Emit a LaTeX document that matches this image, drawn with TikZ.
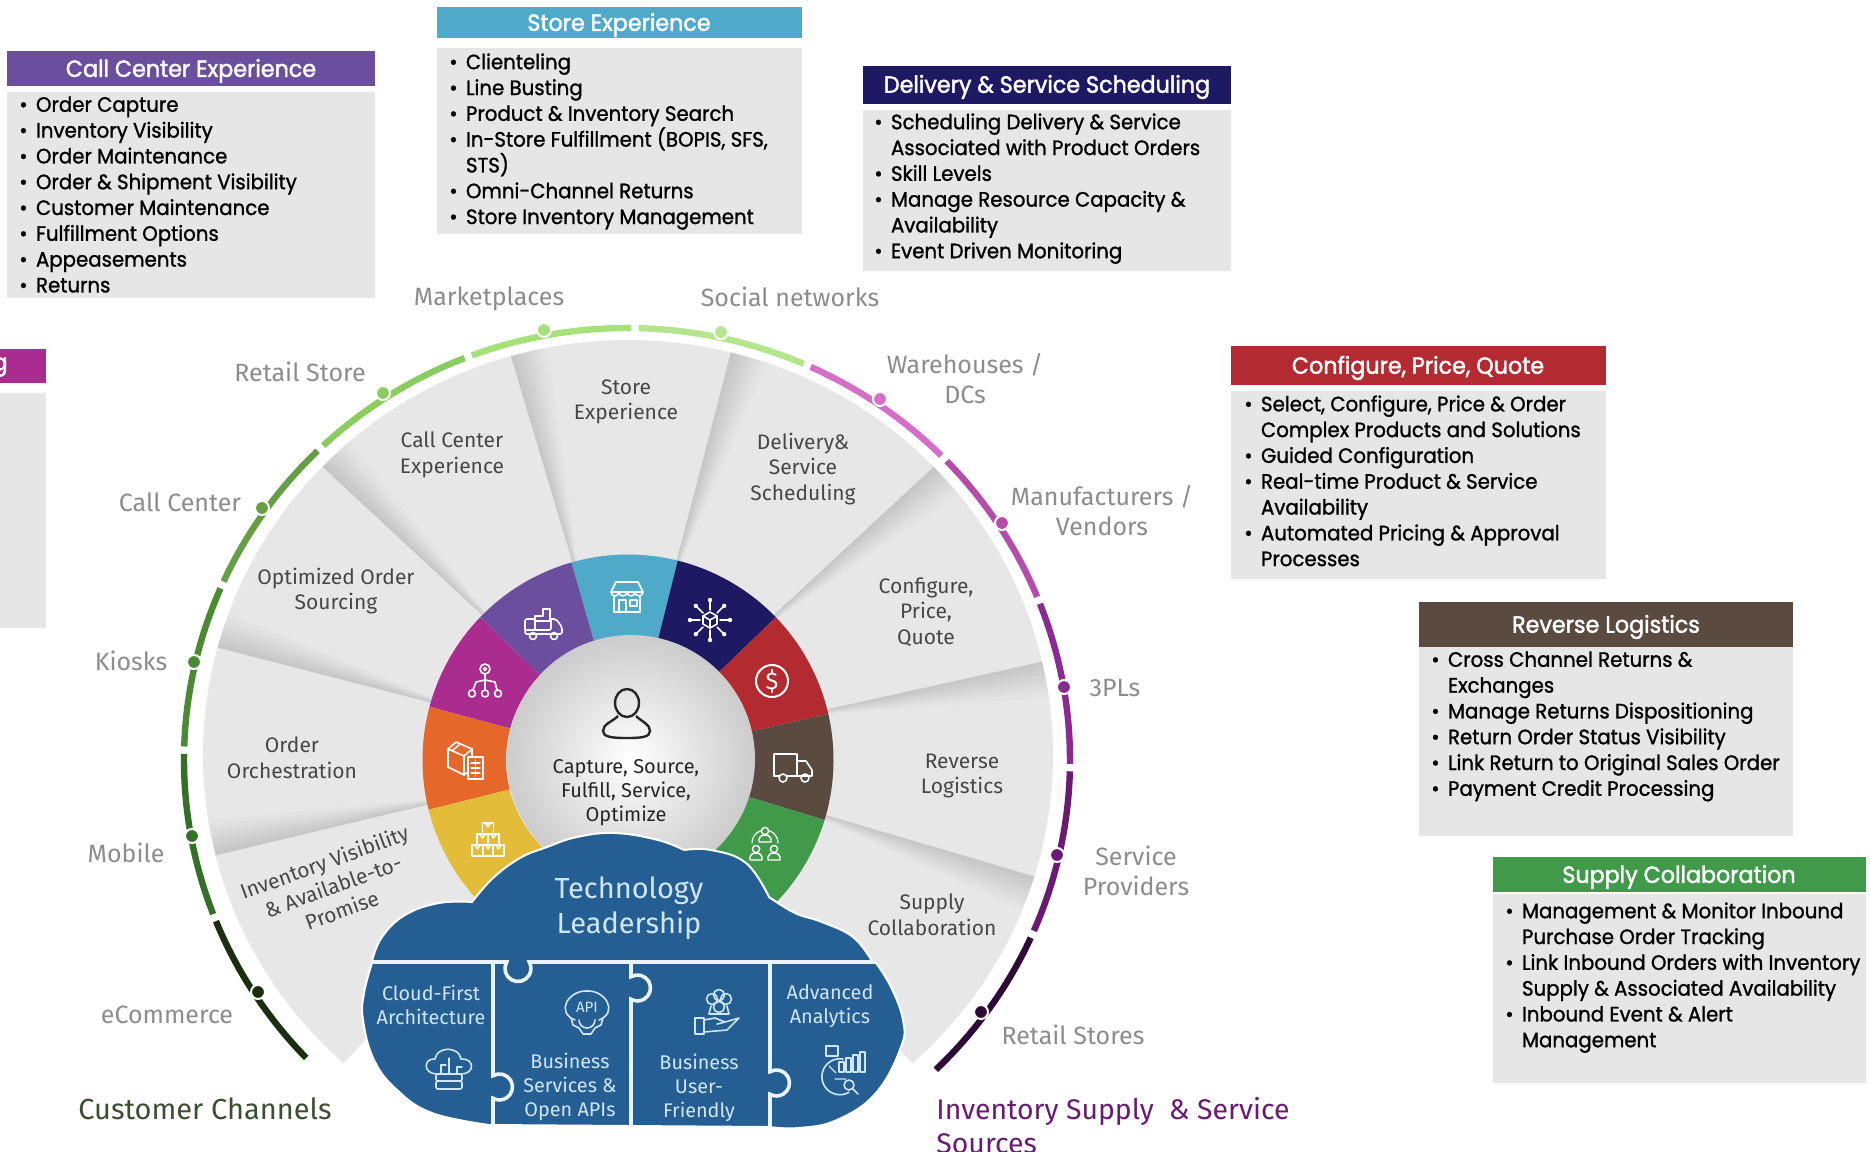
\documentclass[tikz,border=0pt]{standalone}
\usepackage{fontspec}
\usepackage{amsmath}
\setmainfont{Fira Sans}
\newfontfamily\boxfont[FakeStretch=0.95,FakeBold=1.2]{Poppins}
\newfontfamily\headfont[FakeStretch=0.95,FakeBold=1.8]{Poppins}
\newfontfamily\wheelfont{Fira Sans}
\usetikzlibrary{positioning}

\definecolor{callc}{HTML}{6B4F9E}
\definecolor{storec}{HTML}{4FA9C9}
\definecolor{delivc}{HTML}{1D1A63}
\definecolor{cpqc}{HTML}{B32A30}
\definecolor{revc}{HTML}{5A4A40}
\definecolor{supc}{HTML}{419A4A}
\definecolor{magc}{HTML}{AA2C8F}
\definecolor{orgc}{HTML}{E5672A}
\definecolor{yelc}{HTML}{E3BD3A}
\definecolor{cloudc}{HTML}{245E92}
\definecolor{cloudtxt}{HTML}{CFE6F5}
\definecolor{seamc}{HTML}{EAF3F9}
\definecolor{bodyc}{HTML}{E6E6E6}
\definecolor{wedgec}{HTML}{E7E7E8}
\definecolor{a1}{HTML}{1A2E10}
\definecolor{a2}{HTML}{35702A}
\definecolor{a3}{HTML}{4A8A32}
\definecolor{a4}{HTML}{669E44}
\definecolor{a5}{HTML}{8ACC5E}
\definecolor{a6}{HTML}{A6E27A}
\definecolor{a7}{HTML}{B5E68E}
\definecolor{a8}{HTML}{D46FC9}
\definecolor{a9}{HTML}{B54BAB}
\definecolor{a10}{HTML}{8B2A92}
\definecolor{a11}{HTML}{6A1A72}
\definecolor{a12}{HTML}{2F0C38}
\newcommand{\bl}[1]{\makebox[8.3pt][l]{•}#1}
\newcommand{\cn}[1]{\hspace*{8.3pt}#1}

\begin{document}
\begin{tikzpicture}[x=0.5pt,y=-0.5pt,
	boxhead/.style={text=white, inner sep=0pt, font=\headfont\fontsize{11.7}{14}\selectfont},
	boxlist/.style={anchor=north west, inner sep=0pt, align=left, text=black,
	font=\boxfont\fontsize{10.4}{12.9}\selectfont},
	outlabel/.style={align=center, text=black!45, inner sep=0pt,
	font=\wheelfont\fontsize{12.5}{15}\selectfont},
	wedgelabel/.style={align=center, text=black!72, inner sep=0pt,
	font=\wheelfont\fontsize{10.5}{12.8}\selectfont},
	cloudlabel/.style={align=center, text=cloudtxt, inner sep=0pt,
	font=\wheelfont\fontsize{9.9}{12}\selectfont},
	ico/.style={draw=white, line width=0.8pt, line join=round, line cap=round},
	seg/.style={line width=3.2pt},
	seam/.style={seamc, line width=1.8pt}
	]
	\useasboundingbox (0,0) rectangle (1870,1152);
	\fill[white] (0,0) rectangle (1870,1152);

	% grey disc with the wedge shadows
	\begin{scope}[shift={(628,755)}]
		\fill[wedgec] (0,0) -- (48:425 and 415) arc[start angle=48, end angle=-228, x radius=425, y radius=415] -- cycle;
		\foreach \a in {-194,-165,-136,-106,-76,-44,-13,17}
		\foreach \d in {.6,1.2,1.8,2.4,3,3.6,4.2,5}
		\fill[black, opacity=.016] (\a:170) -- (\a:425 and 415) -- ({\a+\d}:425 and 415) -- cycle;
	\end{scope}

	% coloured ring
	\begin{scope}[shift={(628,760)}]
		\foreach \s/\e/\c in {-106/-76/storec, -76/-44/delivc, -44/-13/cpqc, -13/17/revc, 17/46/supc,
		-136/-106/callc, -165/-136/magc, -194/-165/orgc, -226/-194/yelc}
		\fill[\c] (\s:205.5) arc[start angle=\s, end angle=\e, radius=205.5] -- (\e:122) arc[start angle=\e, end angle=\s, radius=122] -- cycle;
	\end{scope}
	\shade[inner color=white, outer color=black!20] (631,759) circle (124);

	% outer arc
	\begin{scope}[shift={(627,760)}]
		\foreach \s/\e/\c in {-223.6/-201.9/a1, -200.9/-179.2/a2, -178.2/-156.6/a3, -155.6/-134.3/a4,
		-133.3/-111.5/a5, -110.5/-89.5/a6, -88.5/-66.5/a7, -65.5/-44.8/a8, -43.8/-22.2/a9,
		-21.2/0.5/a10, 1.5/23.3/a11, 24.3/45.8/a12}
		\draw[seg,\c] (\s:443 and 432) arc[start angle=\s, end angle=\e, x radius=443, y radius=432];
	\end{scope}
	\foreach \x/\y/\c in {544/330/a6, 721/332/a7, 880/399/a8, 1002/523/a9, 1064/687/a10, 1057/855/a11,
	981/1012/a12, 258/992/a1, 192/836/a2, 194/662/a3, 262/508/a4, 383/393/a5}
	\draw[white, line width=1pt, fill=\c] (\x,\y) circle (7);

	% labels round the wheel
	\foreach \n/\x/\y/\t in {mark/489/299/Marketplaces, soc/790/297/Social networks,
	ware/965/379/{Warehouses /\\DCs}, manu/1102/511/{Manufacturers /\\Vendors}, tpl/1115/688/3PLs,
	serv/1136/871/{Service\\Providers}, rets/1073/1035/Retail Stores, ecom/167/1015/eCommerce,
	mob/126/853/Mobile, kio/131/661/Kiosks, cc/180/502/Call Center, rs/300/372/Retail Store}
	\node[outlabel] (\n) at (\x,\y) {\t};

	\foreach \n/\x/\y/\t in {wstore/626/402/{Store\\Experience}, wcall/452/455/{Call Center\\Experience},
	wdel/803/469/{Delivery\&\\Service\\Scheduling}, wopt/336/591/{Optimized Order\\Sourcing},
	wcpq/926/612/{Configure,\\Price,\\Quote}, wordr/292/758/{Order\\Orchestration},
	wrev/962/776/{Reverse\\Logistics}, wsup/932/915/{Supply\\Collaboration}}
	\node[wedgelabel] (\n) at (\x,\y) {\t};
	\node[wedgelabel, rotate=20] (winv) at (333,886) {Inventory Visibility\\\& Available-to-\\Promise};
	\node[wedgelabel, text=black!85, font=\wheelfont\fontsize{10}{12}\selectfont] (hub) at (626,793) {Capture, Source,\\Fulfill, Service,\\Optimize};

	% person
	\draw[line width=1.2pt, black!85] (627,703) ellipse [x radius=12, y radius=14];
	\draw[line width=1.2pt, black!85] (618,716) .. controls (612,722) and (603,724) .. (603,731) .. controls (603,737) and (612,738) .. (627,738) .. controls (642,738) and (650,737) .. (650,731) .. controls (650,724) and (642,722) .. (636,716);

	% ring icons
	\begin{scope}[shift={(627,597)}]
		\draw[ico] (-11,-15) -- (11,-15) -- (16,-5) -- (-16,-5) -- cycle;
		\foreach \u in {-16,-8,0,8} \draw[ico] (\u,-5) arc[start angle=180, end angle=0, radius=4];
		\draw[ico] (-13,0) -- (-13,15) -- (13,15) -- (13,0);
		\draw[ico] (-8,15) -- (-8,3) -- (-1,3) -- (-1,15);
		\draw[ico] (3,3) rectangle (10,9);
	\end{scope}
	\begin{scope}[shift={(710,620)}]
		\draw[ico] (0,-8) -- (7,-4) -- (7,4) -- (0,8) -- (-7,4) -- (-7,-4) -- cycle;
		\draw[ico] (-7,-4) -- (0,0) -- (7,-4) (0,0) -- (0,8);
		\foreach \a in {0,45,...,315} {
			\draw[ico] (\a:10) -- (\a:19);
			\fill[white] (\a:20) circle (2.2);
		}
	\end{scope}
	\begin{scope}[shift={(772,681)}]
		\draw[ico, line width=1pt] (0,0) circle (16);
		\node[text=white, inner sep=0pt, font=\wheelfont\fontsize{12}{12}\selectfont] (dollar) at (0,0) {\$};
	\end{scope}
	\begin{scope}[shift={(793,767)}]
		\draw[ico] (-19,9) -- (-19,-13) -- (4,-13) -- (4,9) -- (19,9) -- (19,3) -- (13,-6) -- (4,-6);
		\draw[ico] (-19,9) -- (-14,9) (-6,9) -- (8,9);
		\draw[ico] (-10,11) circle (4) (12,11) circle (4);
	\end{scope}
	\begin{scope}[shift={(765,843)}]
		\foreach \u/\v in {0/-12,-9/6,9/6} {
			\draw[ico, line width=.7pt] (\u,\v) circle (3.6);
			\draw[ico, line width=.7pt] (\u-6,\v+11) -- (\u-6,\v+8) arc[start angle=180, end angle=360, x radius=6, y radius=4] -- (\u+6,\v+11) -- cycle;
		}
		\draw[ico, line width=.6pt] (-13,0) arc[start angle=180, end angle=250, radius=13];
		\draw[ico, line width=.6pt] (13,0) arc[start angle=0, end angle=-70, radius=13];
	\end{scope}
	\begin{scope}[shift={(488,840)}]
		\foreach \u/\v in {-5.5/-17,-11/-6,0/-6,-16/5,-5.5/5,5/5} {
			\draw[ico, line width=.9pt] (\u,\v) rectangle +(11,11);
			\draw[ico, line width=.7pt] (\u+3,\v) -- (\u+5.5,\v+4) -- (\u+8,\v);
		}
	\end{scope}
	\begin{scope}[shift={(466,761)}]
		\draw[ico] (-10,-19) -- (6,-12) -- (6,8) -- (-2,14) -- (-18,6) -- (-18,-12) -- cycle;
		\draw[ico] (-18,-12) -- (-2,-5) -- (6,-12) (-2,-5) -- (-2,14);
		\draw[ico] (-6,-17) -- (-14,-10);
		\draw[ico, fill=orgc] (2,-4) rectangle (17,18);
		\draw[ico, line width=.6pt] (5,2) -- (14,2) (5,7) -- (14,7) (5,12) -- (14,12) (9.5,-1) -- (9.5,15);
	\end{scope}
	\begin{scope}[shift={(485,680)}]
		\draw[ico] (0,-11) circle (5);
		\draw[ico, line width=.6pt] (0,-11) circle (1.8);
		\draw[ico] (0,-6) -- (0,10) (0,0) -- (-9,2) -- (-12,10) (0,0) -- (10,2) -- (12,10);
		\draw[ico] (-13,13.5) circle (3.5) (0,13.5) circle (3.5) (13,13.5) circle (3.5);
	\end{scope}
	\begin{scope}[shift={(543,623)}]
		\draw[ico, rounded corners=1pt] (-18,7) -- (-18,-4) -- (-8,-4) -- (-8,7);
		\draw[ico] (-8,-2) -- (-8,-7) -- (0,-7) -- (0,-14) -- (7,-14) -- (7,-2) -- (-8,-2);
		\draw[ico, rounded corners=1pt] (7,-4) -- (13,-4) -- (19,4) -- (19,11) -- (-18,11) -- (-18,7) -- (8,7) -- (8,-4);
		\draw[ico] (-10,13) circle (3.5) (11,13) circle (3.5);
	\end{scope}

	% cloud
	\fill[cloudc, draw=white, line width=1pt] plot[smooth, tension=.7] coordinates {(372,961) (382,937) (405,915) (439,903) (472,902)}
	-- plot[smooth, tension=.7] coordinates {(472,902) (493,878) (520,858) (547,847) (577,837) (615,833) (658,840) (684,850)}
	-- plot[smooth, tension=.7] coordinates {(684,850) (711,850) (746,863) (769,897)}
	-- plot[smooth, tension=.7] coordinates {(769,897) (795,913) (822,922) (853,937) (872,961)}
	-- plot[smooth, tension=.7] coordinates {(876,963) (891,987) (903,1020) (901,1047) (876,1093) (837,1120) (799,1128) (769,1127)}
	-- plot[smooth, tension=.7] coordinates {(489,1125) (432,1113) (397,1090) (374,1060) (363,1020) (364,993) (372,963)} -- cycle;

	% puzzle seams
	\draw[seam] (371,962) -- (506.7,962) arc[start angle=-150, end angle=-390, radius=13] -- (876,962);
	\draw[seam] (493,962) -- (493,1075.7) arc[start angle=-120, end angle=120, radius=13] -- (493,1126);
	\draw[seam] (631,962) -- (631,976.7) arc[start angle=-120, end angle=120, radius=13] -- (631,1126);
	\draw[seam] (770,962) -- (770,1071.7) arc[start angle=-120, end angle=120, radius=13] -- (770,1127);

	\node[align=center, text=cloudtxt, inner sep=0pt, font=\wheelfont\fontsize{14.5}{17.4}\selectfont] (tech) at (629,908) {Technology\\Leadership};
	\node[cloudlabel] (cfirst) at (431,1005) {Cloud-First\\Architecture};
	\node[cloudlabel] (bserv) at (570,1087) {Business\\Services \&\\Open APIs};
	\node[cloudlabel] (buser) at (699,1088) {Business\\User-\\Friendly};
	\node[cloudlabel] (adv) at (830,1006) {Advanced\\Analytics};

	% cloud icons
	\begin{scope}[shift={(449,1070)}]
		\draw[ico, draw=cloudtxt] (-12,4) .. controls (-26,4) and (-26,-12) .. (-14,-11) .. controls (-12,-24) and (10,-24) .. (12,-11) .. controls (26,-12) and (26,4) .. (12,4);
		\draw[ico, draw=cloudtxt, line width=.6pt] (0,4) -- (0,-12) (-8,4) -- (-8,-5) -- (-3,-5) (8,4) -- (8,-3) -- (13,-3);
		\draw[ico, draw=cloudtxt, rounded corners=1pt] (-13,4) rectangle (13,11) (-13,11) rectangle (13,19);
	\end{scope}
	\begin{scope}[shift={(587,1012)}]
		\draw[ico, draw=cloudtxt] (-12,8) .. controls (-32,0) and (-18,-22) .. (0,-21) .. controls (18,-22) and (32,0) .. (12,8);
		\node[text=cloudtxt, inner sep=0pt, font=\wheelfont\fontsize{7.5}{9}\selectfont] (apitxt) at (0,-5) {API};
		\draw[ico, draw=cloudtxt] (-16,6) -- (-14,13) -- (-8,16) -- (-4,22) -- (4,22) -- (8,16) -- (14,13) -- (16,6);
		\draw[ico, draw=cloudtxt] (-8,8) arc[start angle=180, end angle=0, radius=8];
	\end{scope}
	\begin{scope}[shift={(719,1012)}]
		\foreach \u/\v in {-7/-13,7/-13,0/-17,0/-5} \draw[ico, draw=cloudtxt] (\u,\v) circle (5.5);
		\draw[ico, draw=cloudtxt] (-8,-6) -- (-10,2) -- (10,2) -- (8,-6);
		\draw[ico, draw=cloudtxt] (-24,6) rectangle (-15,22);
		\draw[ico, draw=cloudtxt] (-15,8) -- (-4,6) -- (6,10) -- (-2,12) (6,10) -- (20,6) -- (8,18) -- (-15,20);
	\end{scope}
	\begin{scope}[shift={(841,1072)}]
		\draw[ico, draw=cloudtxt] (2,-13) arc[start angle=-80, end angle=-300, radius=18];
		\draw[ico, draw=cloudtxt] (-15,-26) rectangle (-3,-16);
		\foreach \u/\h in {-2/10,5/14,12/17,19/20} \draw[ico, draw=cloudtxt] (\u,0) rectangle +(5,-\h);
		\draw[ico, draw=cloudtxt, line width=.6pt] (-12,-6) -- (-5,1) (-6,7) -- (5,7);
		\draw[ico, draw=cloudtxt] (8,13) circle (5) (12,17) -- (17,22);
	\end{scope}

	% channel titles
	\node[anchor=west, inner sep=0pt, text=a1!85!white, font=\wheelfont\fontsize{14.5}{17}\selectfont] (chan) at (78,1109) {Customer Channels};
	\node[anchor=west, inner sep=0pt, text=a11, align=left, font=\wheelfont\fontsize{14.2}{17}\selectfont] (supp) at (936,1126) {Inventory Supply \ \& Service\\Sources};

	% clipped box on the left edge
	\fill[magc] (0,349) rectangle (46,383);
	\fill[bodyc] (0,393) rectangle (46,628);
	\node[boxhead, anchor=east] (clipg) at (8,367) {g};

	% call center
	\fill[callc] (7,51) rectangle (375,86);
	\node[boxhead] (callh) at (191,71) {Call Center Experience};
	\fill[bodyc] (7,92) rectangle (375,298);
	\node[boxlist] (calll) at (19,96) {\bl{Order Capture}\\\bl{Inventory Visibility}\\\bl{Order Maintenance}\\\bl{Order \& Shipment Visibility}\\\bl{Customer Maintenance}\\\bl{Fulfillment Options}\\\bl{Appeasements}\\\bl{Returns}};

	% store
	\fill[storec] (437,7) rectangle (802,38);
	\node[boxhead] (storeh) at (619,25) {Store Experience};
	\fill[bodyc] (437,48) rectangle (802,234);
	\node[boxlist] (storel) at (449,53) {\bl{Clienteling}\\\bl{Line Busting}\\\bl{Product \& Inventory Search}\\\bl{In-Store Fulfillment (BOPIS, SFS,}\\\cn{STS)}\\\bl{Omni-Channel Returns}\\\bl{Store Inventory Management}};

	% delivery
	\fill[delivc] (863,66) rectangle (1231,104);
	\node[boxhead] (delh) at (1047,87) {Delivery \& Service Scheduling};
	\fill[bodyc] (863,110) rectangle (1231,271);
	\node[boxlist] (dell) at (874,113) {\bl{Scheduling Delivery \& Service}\\\cn{Associated with Product Orders}\\\bl{Skill Levels}\\\bl{Manage Resource Capacity \&}\\\cn{Availability}\\\bl{Event Driven Monitoring}};

	% cpq
	\fill[cpqc] (1231,346) rectangle (1606,385);
	\node[boxhead] (cpqh) at (1418,368) {Configure, Price, Quote};
	\fill[bodyc] (1231,391) rectangle (1606,579);
	\node[boxlist] (cpql) at (1244,395) {\bl{Select, Configure, Price \& Order}\\\cn{Complex Products and Solutions}\\\bl{Guided Configuration}\\\bl{Real-time Product \& Service}\\\cn{Availability}\\\bl{Automated Pricing \& Approval}\\\cn{Processes}};

	% reverse
	\fill[revc] (1419,602) rectangle (1793,647);
	\node[boxhead] (revh) at (1606,627) {Reverse Logistics};
	\fill[bodyc] (1419,647) rectangle (1793,836);
	\node[boxlist] (revl) at (1431,651) {\bl{Cross Channel Returns \&}\\\cn{Exchanges}\\\bl{Manage Returns Dispositioning}\\\bl{Return Order Status Visibility}\\\bl{Link Return to Original Sales Order}\\\bl{Payment Credit Processing}};

	% supply
	\fill[supc] (1493,857) rectangle (1866,892);
	\node[boxhead] (suph) at (1679,877) {Supply Collaboration};
	\fill[bodyc] (1493,894) rectangle (1866,1083);
	\node[boxlist] (supl) at (1505,902) {\bl{Management \& Monitor Inbound}\\\cn{Purchase Order Tracking}\\\bl{Link Inbound Orders with Inventory}\\\cn{Supply \& Associated Availability}\\\bl{Inbound Event \& Alert}\\\cn{Management}};
\end{tikzpicture}
\end{document}
